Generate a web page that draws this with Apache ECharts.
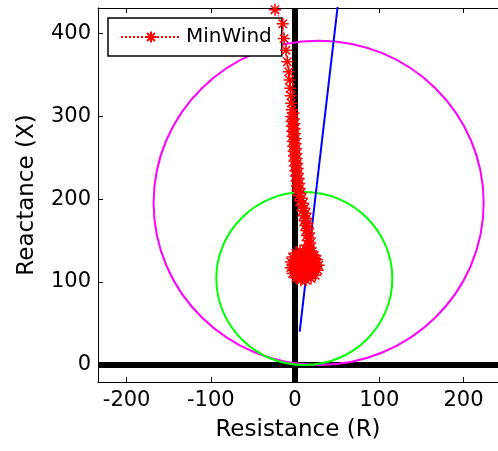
<!DOCTYPE html>
<html>
<head>
<meta charset="utf-8">
<script src="https://cdn.jsdelivr.net/npm/echarts@6/dist/echarts.min.js"></script>
<style>
  html, body { margin: 0; padding: 0; background: #fff; }
  #chart { width: 498px; height: 451px; }
</style>
</head>
<body>
<div id="chart"></div>
<script>
// Impedance plane: resistance (R) against reactance (X)
const xRange = [-234, 241];
const yRange = [-21, 431];
const xTicks = [-200, -100, 0, 100, 200];
const yTicks = [0, 100, 200, 300, 400];

// Relay zone characteristics: [centre R, centre X, radius]
const outerZone = [28, 195.5, 196];
const innerZone = [11, 104, 104.5];

// Line impedance angle line (R, X end points)
const lineAngleR = [5.5, 56];
const lineAngleX = [40, 480];

// Apparent impedance trajectory, minimum wind case
const minWindR = [
  -23.8, -14.6, -13.1, -10.7, -9.1, -7.5, -6.5, -5.7, -5.0, -4.4, -3.9,
  -1.7, -4.5, -1.3, -4.1, -0.9, -3.7, -0.5, -3.3, -0.1, -2.9,
  0.3, -2.5, 0.7, -2.1, 1.1, -1.7, 1.5, -1.3, 1.9, -0.8,
  2.5, -0.2, 3.1, 0.4, 3.7, 1.0, 4.3, 1.6, 4.9, 2.2,
  5.5, 2.9, 6.5, 4.3, 8.1, 5.9, 9.7, 7.5, 11.2, 8.8,
  12.4, 10.0, 13.6, 11.2, 14.7, 12.2, 15.7, 13.2, 16.7, 14.1,
  17.5, 14.9, 18.2, 15.5, 18.7,
  19, 23, 26, 28, 27, 24, 19, 13, 7, 1, -3, -5, -5, -3, 1, 6, 12,
  18, 21, 24, 25, 23, 19, 14, 8, 3, 0, -2, -1, 2, 6, 11,
  17, 20, 22, 23, 21, 16, 11, 6, 2, 0, 0, 2, 6, 11,
  15, 18, 19, 18, 15, 10, 6, 4, 4, 7, 11,
  14, 15, 13, 9, 7, 8, 11, 13, 12, 10, 11
];
const minWindX = [
  429, 412, 394, 380, 366, 354, 344, 334, 325, 316, 308,
  304, 300, 297, 294, 291, 288, 285, 282, 279, 276,
  273, 270, 267, 264, 261, 258, 255, 252, 249, 246,
  243, 240, 237, 234, 231, 228, 225, 222, 219, 216,
  213, 210, 207, 204, 201, 198, 195, 192, 189, 186,
  183, 180, 177, 174, 171, 168, 165, 162, 159, 156,
  153, 150, 147, 144, 141,
  136, 132, 127, 120, 114, 108, 104, 102, 102, 105, 110, 117, 124, 130, 135, 138, 140,
  137, 133, 128, 121, 115, 110, 106, 105, 106, 110, 115, 121, 127, 132, 135,
  134, 130, 125, 119, 113, 109, 108, 110, 114, 119, 124, 129, 132, 133,
  131, 127, 122, 117, 113, 113, 115, 119, 124, 128, 129,
  127, 122, 118, 118, 121, 125, 126, 124, 121, 121, 123
];

const FONT = 'DejaVu Sans';
const asterisk = 'path://M0 6 L12 6 M6 0 L6 12 M1.8 1.8 L10.2 10.2 M10.2 1.8 L1.8 10.2';

function zip(a, b) { return a.map((v, i) => [v, b[i]]); }

function zoneSeries(name, zone, color) {
  return {
    name: name,
    type: 'custom',
    z: 3,
    silent: true,
    clip: true,
    data: [zone],
    renderItem: function (params, api) {
      const c = api.coord([api.value(0), api.value(1)]);
      const s = api.size([api.value(2), api.value(2)]);
      return {
        type: 'ellipse',
        shape: { cx: c[0], cy: c[1], rx: s[0], ry: s[1] },
        style: { fill: null, stroke: color, lineWidth: 2 }
      };
    }
  };
}

const axisCommon = {
  type: 'value',
  splitLine: { show: false },
  axisLine: { onZero: false, lineStyle: { color: '#000', width: 1 } },
};

const chart = echarts.init(document.getElementById('chart'), null, { renderer: 'canvas' });
chart.setOption({
  animation: false,
  backgroundColor: '#fff',
  grid: { left: 98, top: 8, width: 400, height: 374, containLabel: false, outerBoundsMode: 'none' },
  legend: {
    data: ['MinWind'],
    left: 108, top: 18,
    padding: [9, 10, 9, 12],
    itemWidth: 60, itemHeight: 14, itemGap: 5,
    backgroundColor: '#fff',
    borderColor: '#000', borderWidth: 1.5, borderRadius: 0,
    textStyle: { fontFamily: FONT, fontSize: 20, color: '#000', padding: [0, 0, 0, 0] }
  },
  xAxis: [
    Object.assign({}, axisCommon, {
      position: 'bottom',
      min: xRange[0], max: xRange[1],
      axisTick: { inside: true, length: 5, customValues: xTicks, lineStyle: { color: '#000' } },
      axisLabel: { customValues: xTicks, color: '#000', fontFamily: FONT, fontSize: 21, margin: 8 },
      name: 'Resistance (R)', nameLocation: 'middle', nameGap: 37,
      nameTextStyle: { fontFamily: FONT, fontSize: 23, color: '#000' }
    }),
    Object.assign({}, axisCommon, {
      position: 'top',
      min: xRange[0], max: xRange[1],
      axisTick: { inside: true, length: 5, customValues: xTicks, lineStyle: { color: '#000' } },
      axisLabel: { show: false }
    })
  ],
  yAxis: [
    Object.assign({}, axisCommon, {
      position: 'left',
      min: yRange[0], max: yRange[1],
      axisTick: { inside: true, length: 5, customValues: yTicks, lineStyle: { color: '#000' } },
      axisLabel: { customValues: yTicks, color: '#000', fontFamily: FONT, fontSize: 21, margin: 7 },
      name: 'Reactance (X)', nameLocation: 'middle', nameGap: 59,
      nameTextStyle: { fontFamily: FONT, fontSize: 23, color: '#000' }
    })
  ],
  series: [
    {
      name: 'zeroAxes',
      type: 'line',
      z: 1,
      data: [[0, 0]],
      showSymbol: false,
      lineStyle: { opacity: 0 },
      markLine: {
        silent: true,
        z: 1,
        symbol: 'none',
        label: { show: false },
        lineStyle: { color: '#000', width: 6, type: 'solid' },
        data: [{ xAxis: 0 }, { yAxis: 0 }]
      }
    },
    zoneSeries('outerZone', outerZone, '#ff00ff'),
    zoneSeries('innerZone', innerZone, '#00ff00'),
    {
      name: 'lineAngle',
      type: 'line',
      z: 4,
      data: zip(lineAngleR, lineAngleX),
      showSymbol: false,
      lineStyle: { color: '#0000ff', width: 2 }
    },
    {
      name: 'MinWind',
      type: 'line',
      z: 5,
      data: zip(minWindR, minWindX),
      symbol: asterisk,
      symbolSize: 12,
      showAllSymbol: true,
      itemStyle: { color: '#ff0000', borderColor: '#ff0000', borderWidth: 1.5 },
      lineStyle: { color: '#ff0000', width: 1, type: 'dotted' }
    }
  ]
});
</script>
</body>
</html>
